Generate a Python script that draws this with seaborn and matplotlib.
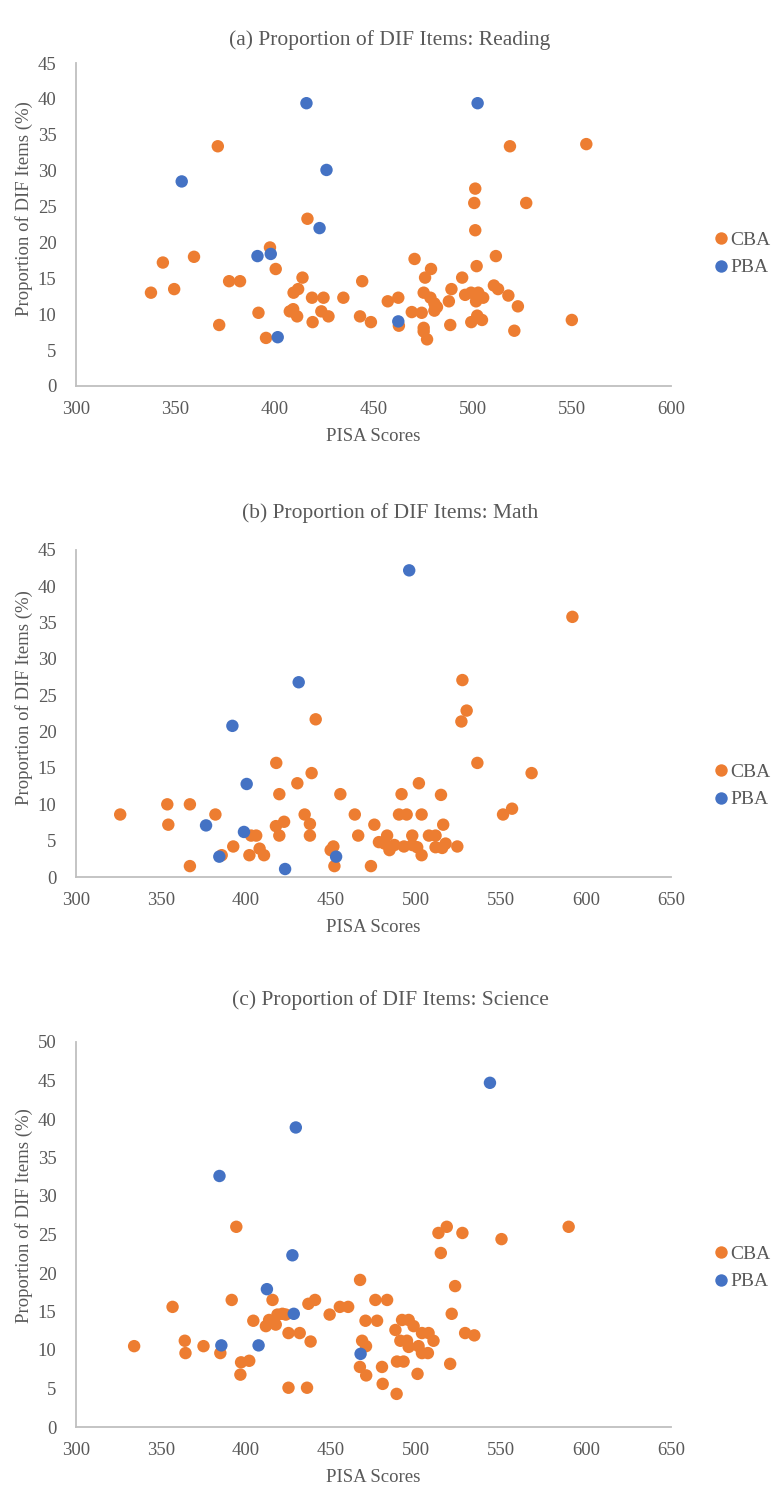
import pandas as pd
import matplotlib
matplotlib.use('Agg')
import matplotlib.pyplot as plt
import seaborn as sns

# Panel (a) Reading
read_cba_x = [371.5, 416.7, 397.8, 343.8, 359.5, 400.7, 377.2, 382.7, 414.2, 444.3, 337.8, 349.5,
              412.0, 409.7, 419.0, 424.8, 434.8, 392.0, 407.8, 409.5, 411.5, 423.7, 427.3, 419.3,
              443.2, 448.7, 372.2, 395.8, 518.8, 557.3, 501.3, 500.8, 527.0, 501.3, 470.7, 511.7,
              502.0, 479.0, 476.0, 494.7, 510.7, 512.8, 475.3, 489.3, 496.2, 499.2, 502.8, 518.0,
              457.2, 462.5, 478.7, 480.7, 482.0, 480.7, 488.0, 501.7, 505.3, 522.8, 469.3, 474.3,
              462.8, 499.3, 504.7, 502.3, 488.7, 475.3, 475.3, 477.0, 521.0, 550.0]
read_cba_y = [33.4, 23.3, 19.3, 17.2, 18.0, 16.3, 14.6, 14.6, 15.1, 14.6, 13.0, 13.5,
              13.5, 13.0, 12.3, 12.3, 12.3, 10.2, 10.4, 10.7, 9.7, 10.4, 9.7, 8.9,
              9.7, 8.9, 8.5, 6.7, 33.4, 33.7, 27.5, 25.5, 25.5, 21.7, 17.7, 18.1,
              16.7, 16.3, 15.1, 15.1, 14.0, 13.5, 13.0, 13.5, 12.7, 13.0, 13.0, 12.6,
              11.8, 12.3, 12.3, 11.5, 11.0, 10.5, 11.8, 11.8, 12.3, 11.1, 10.3, 10.2,
              8.4, 8.9, 9.2, 9.8, 8.5, 8.1, 7.6, 6.5, 7.7, 9.2]
read_pba_x = [416.2, 426.3, 353.3, 422.8, 391.5, 398.2, 401.7, 502.5, 462.5]
read_pba_y = [39.4, 30.1, 28.5, 22.0, 18.1, 18.4, 6.8, 39.4, 9.0]

# Panel (b) Math
math_cba_x = [441.0, 417.8, 438.6, 430.2, 419.6, 455.5, 326.0, 353.7, 367.0, 382.0, 434.5, 464.0,
              354.3, 437.6, 422.4, 417.6, 475.5, 403.0, 406.0, 419.6, 437.6, 466.0, 392.5, 408.0,
              410.6, 402.0, 385.7, 367.0, 451.4, 449.8, 452.0, 473.5, 478.2, 592.0, 527.3, 529.8,
              526.7, 536.1, 568.0, 501.7, 491.5, 514.7, 490.0, 494.5, 503.3, 551.2, 556.5, 516.0,
              483.0, 497.8, 507.6, 511.5, 481.5, 484.4, 487.3, 492.9, 497.8, 500.7, 503.3, 511.5,
              515.4, 517.4, 524.3]
math_cba_y = [21.7, 15.7, 14.3, 12.9, 11.4, 11.4, 8.6, 10.0, 10.0, 8.6, 8.6, 8.6,
              7.2, 7.3, 7.6, 7.0, 7.2, 5.7, 5.7, 5.7, 5.7, 5.7, 4.2, 3.9,
              3.0, 3.0, 3.0, 1.5, 4.2, 3.7, 1.5, 1.5, 4.8, 35.8, 27.1, 22.9,
              21.4, 15.7, 14.3, 12.9, 11.4, 11.3, 8.6, 8.6, 8.6, 8.6, 9.4, 7.2,
              5.7, 5.7, 5.7, 5.7, 4.6, 3.7, 4.4, 4.2, 4.4, 4.1, 3.0, 4.1,
              4.0, 4.6, 4.2]
math_pba_x = [431.0, 392.0, 400.4, 376.5, 398.8, 384.3, 423.0, 453.0, 496.0]
math_pba_y = [26.8, 20.8, 12.8, 7.1, 6.2, 2.8, 1.1, 2.8, 42.2]

# Panel (c) Science
sci_cba_x = [394.3, 467.1, 391.6, 415.6, 356.8, 436.7, 440.6, 449.2, 455.2, 460.1, 476.1, 483.0,
             404.3, 411.7, 413.6, 417.5, 418.5, 421.4, 423.4, 470.3, 477.1, 425.0, 431.6, 438.0,
             334.2, 364.0, 364.4, 375.0, 384.9, 468.3, 470.6, 397.1, 401.9, 396.7, 467.0, 470.7,
             480.0, 480.4, 425.0, 435.9, 518.1, 513.2, 527.3, 550.3, 589.8, 514.6, 523.0, 521.0,
             491.8, 495.7, 498.6, 487.9, 503.5, 507.4, 510.3, 490.8, 494.7, 495.7, 501.5, 503.5,
             507.0, 528.9, 534.3, 488.8, 492.7, 520.1, 500.9, 488.6]
sci_cba_y = [26.0, 19.1, 16.5, 16.5, 15.6, 16.0, 16.5, 14.6, 15.6, 15.6, 16.5, 16.5,
             13.8, 13.1, 13.9, 13.3, 14.6, 14.7, 14.6, 13.8, 13.8, 12.2, 12.2, 11.1,
             10.5, 11.2, 9.6, 10.5, 9.6, 11.2, 10.5, 8.4, 8.6, 6.8, 7.8, 6.7,
             7.8, 5.6, 5.1, 5.1, 26.0, 25.2, 25.2, 24.4, 26.0, 22.6, 18.3, 14.7,
             13.9, 13.9, 13.1, 12.6, 12.2, 12.2, 11.2, 11.2, 11.2, 10.4, 10.5, 9.6,
             9.6, 12.2, 11.9, 8.5, 8.5, 8.2, 6.9, 4.3]
sci_pba_x = [429.3, 384.4, 427.3, 412.3, 428.1, 385.5, 407.4, 467.4, 543.5]
sci_pba_y = [38.9, 32.6, 22.3, 17.9, 14.7, 10.6, 10.6, 9.5, 44.7]

titles = ['(a) Proportion of DIF Items: Reading',
          '(b) Proportion of DIF Items: Math',
          '(c) Proportion of DIF Items: Science']
xlims = [(300, 600), (300, 650), (300, 650)]
ylims = [(0, 45), (0, 45), (0, 50)]

sns.set_style('white')
plt.rcParams['font.family'] = ['Liberation Serif', 'DejaVu Serif']

gray = '#595959'
palette = {'CBA': '#ED7D31', 'PBA': '#4472C4'}


def make_df(cx, cy, px, py):
    df_c = pd.DataFrame({'score': cx, 'prop': cy, 'mode': 'CBA'})
    df_p = pd.DataFrame({'score': px, 'prop': py, 'mode': 'PBA'})
    return pd.concat([df_c, df_p], ignore_index=True)


frames = [make_df(read_cba_x, read_cba_y, read_pba_x, read_pba_y),
          make_df(math_cba_x, math_cba_y, math_pba_x, math_pba_y),
          make_df(sci_cba_x, sci_cba_y, sci_pba_x, sci_pba_y)]

fig = plt.figure(figsize=(7.79, 14.94), dpi=100)
H = 1494.0
# axes boxes in pixels: (top, bottom)
boxes = [(63, 386), (550, 877), (1042, 1427)]
title_y = [40, 513, 1000]
legend_y = [254, 786, 1268]
left_px, right_px = 76, 671

for i, df in enumerate(frames):
    top, bot = boxes[i]
    ax = fig.add_axes([left_px / 779, 1 - bot / H, (right_px - left_px) / 779, (bot - top) / H])
    sns.scatterplot(data=df, x='score', y='prop', hue='mode', hue_order=['CBA', 'PBA'],
                    palette=palette, s=80, linewidth=0, ax=ax, clip_on=False)
    ax.set_xlim(*xlims[i])
    ax.set_ylim(*ylims[i])
    ax.set_xticks(range(xlims[i][0], xlims[i][1] + 1, 50))
    ax.set_yticks(range(ylims[i][0], ylims[i][1] + 1, 5))
    for side in ['top', 'right']:
        ax.spines[side].set_visible(False)
    for side in ['left', 'bottom']:
        ax.spines[side].set_color('#BFBFBF')
        ax.spines[side].set_linewidth(1.3)
    ax.tick_params(axis='x', length=0, pad=11, labelsize=13.5, labelcolor=gray)
    ax.tick_params(axis='y', length=0, pad=14, labelsize=13.5, labelcolor=gray)
    ax.set_xlabel('PISA Scores', fontsize=13.5, color=gray)
    ax.set_ylabel('Proportion of DIF Items (%)', fontsize=13.5, color=gray)
    hpx = bot - top
    ax.xaxis.set_label_coords(0.5, -42 / hpx)
    ax.yaxis.set_label_coords(-43 / (right_px - left_px), 0.55)

    handles, labels = ax.get_legend_handles_labels()
    ax.legend(handles, labels, loc='center left', frameon=False,
              bbox_to_anchor=(715 / 779, 1 - legend_y[i] / H), bbox_transform=fig.transFigure,
              fontsize=14, labelcolor=gray, handlelength=0.6, handletextpad=0.2,
              markerscale=1.0, labelspacing=0.5, borderaxespad=0, borderpad=0)

    fig.text(390 / 779, 1 - title_y[i] / H, titles[i], ha='center', va='center',
             fontsize=15.5, color=gray)

fig.savefig('out.png', dpi=100)
